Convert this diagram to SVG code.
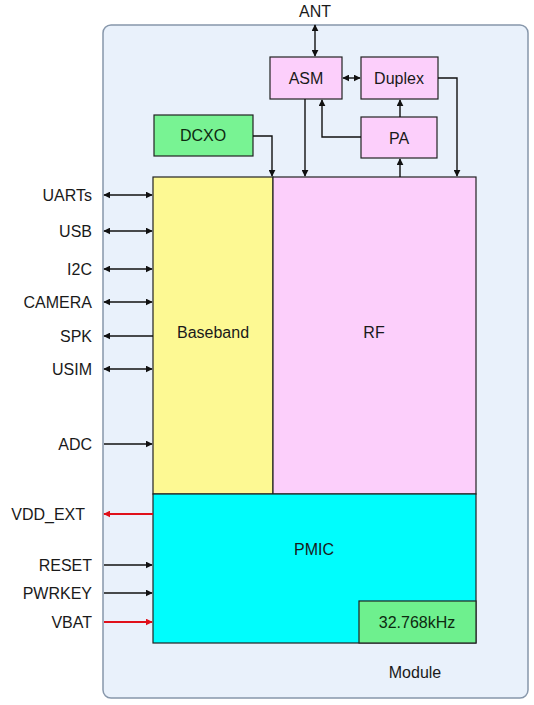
<svg xmlns="http://www.w3.org/2000/svg" width="534" height="705" viewBox="0 0 534 705">
<defs>
<style>
text{font-family:"Liberation Sans",Arial,sans-serif;font-size:16px;fill:#1a1a1a}
.c{text-anchor:middle}
.r{text-anchor:end}
.box{stroke:#222;stroke-width:1.2}
.ln{fill:none;stroke:#111;stroke-width:1.4}
.red{fill:none;stroke:#e0101a;stroke-width:1.8}
</style>
<marker id="a" viewBox="0 0 10 10" refX="9" refY="5" markerWidth="7" markerHeight="7" orient="auto-start-reverse" markerUnits="userSpaceOnUse"><path d="M0,0 L10,5 L0,10 z" fill="#111"/></marker>
<marker id="ar" viewBox="0 0 10 10" refX="9" refY="5" markerWidth="7" markerHeight="7" orient="auto-start-reverse" markerUnits="userSpaceOnUse"><path d="M0,0 L10,5 L0,10 z" fill="#e0101a"/></marker>
</defs>
<rect width="534" height="705" fill="#fff"/>
<g id="module">
<rect x="103" y="25" width="425" height="673" rx="8" fill="#e9f1fb" stroke="#8797ab" stroke-width="1.5"/>
<text class="c" x="415" y="678">Module</text>
</g>
<g id="baseband"><rect class="box" x="153" y="177" width="120" height="317" fill="#fdf993"/><text class="c" x="213" y="338">Baseband</text></g>
<g id="rf"><rect class="box" x="273" y="177" width="203" height="317" fill="#fccffb"/><text class="c" x="374" y="338">RF</text></g>
<g id="pmic"><rect class="box" x="153" y="494" width="323" height="149" fill="#00fdfd"/><text class="c" x="314" y="555">PMIC</text></g>
<g id="osc"><rect class="box" x="359" y="601" width="117" height="42" fill="#6ef08e"/><text class="c" x="417" y="628" style="fill:#0d2a10">32.768kHz</text></g>
<g id="dcxo"><rect class="box" x="154" y="115" width="99" height="41" fill="#78f393"/><text class="c" x="203" y="141" style="fill:#0d2a10">DCXO</text></g>
<g id="asm"><rect class="box" x="270" y="57" width="72" height="42" fill="#fccffb"/><text class="c" x="306" y="84">ASM</text></g>
<g id="duplex"><rect class="box" x="361" y="57" width="77" height="42" fill="#fccffb"/><text class="c" x="399" y="84">Duplex</text></g>
<g id="pa"><rect class="box" x="361" y="117" width="76" height="41" fill="#fccffb"/><text class="c" x="399" y="144">PA</text></g>
<g id="labels">
<text class="c" x="315" y="17">ANT</text>
<text class="r" x="92" y="201">UARTs</text>
<text class="r" x="92" y="237">USB</text>
<text class="r" x="92" y="275">I2C</text>
<text class="r" x="92" y="308">CAMERA</text>
<text class="r" x="92" y="342">SPK</text>
<text class="r" x="92" y="375">USIM</text>
<text class="r" x="92" y="450">ADC</text>
<text class="r" x="85" y="520">VDD_EXT</text>
<text class="r" x="92" y="571">RESET</text>
<text class="r" x="92" y="599">PWRKEY</text>
<text class="r" x="92" y="628">VBAT</text>
</g>
<g id="connectors">
<path class="ln" d="M315,25 V56" marker-start="url(#a)" marker-end="url(#a)"/>
<path class="ln" d="M343,78 H360" marker-start="url(#a)" marker-end="url(#a)"/>
<path class="ln" d="M438,78 H457 V176" marker-end="url(#a)"/>
<path class="ln" d="M305,99 V176" marker-end="url(#a)"/>
<path class="ln" d="M361,137 H322 V100" marker-end="url(#a)"/>
<path class="ln" d="M400,117 V100" marker-end="url(#a)"/>
<path class="ln" d="M400,177 V159" marker-end="url(#a)"/>
<path class="ln" d="M253,136 H272 V176" marker-end="url(#a)"/>
<path class="ln" d="M104,195 H152" marker-start="url(#a)" marker-end="url(#a)"/>
<path class="ln" d="M104,231 H152" marker-start="url(#a)" marker-end="url(#a)"/>
<path class="ln" d="M104,269 H152" marker-start="url(#a)" marker-end="url(#a)"/>
<path class="ln" d="M104,302 H152" marker-start="url(#a)" marker-end="url(#a)"/>
<path class="ln" d="M153,336 H104" marker-end="url(#a)"/>
<path class="ln" d="M104,369 H152" marker-start="url(#a)" marker-end="url(#a)"/>
<path class="ln" d="M104,444 H152" marker-end="url(#a)"/>
<path class="red" d="M153,514 H104" marker-end="url(#ar)"/>
<path class="ln" d="M104,565 H152" marker-end="url(#a)"/>
<path class="ln" d="M104,593 H152" marker-end="url(#a)"/>
<path class="red" d="M104,622 H152" marker-end="url(#ar)"/>
</g>
</svg>
